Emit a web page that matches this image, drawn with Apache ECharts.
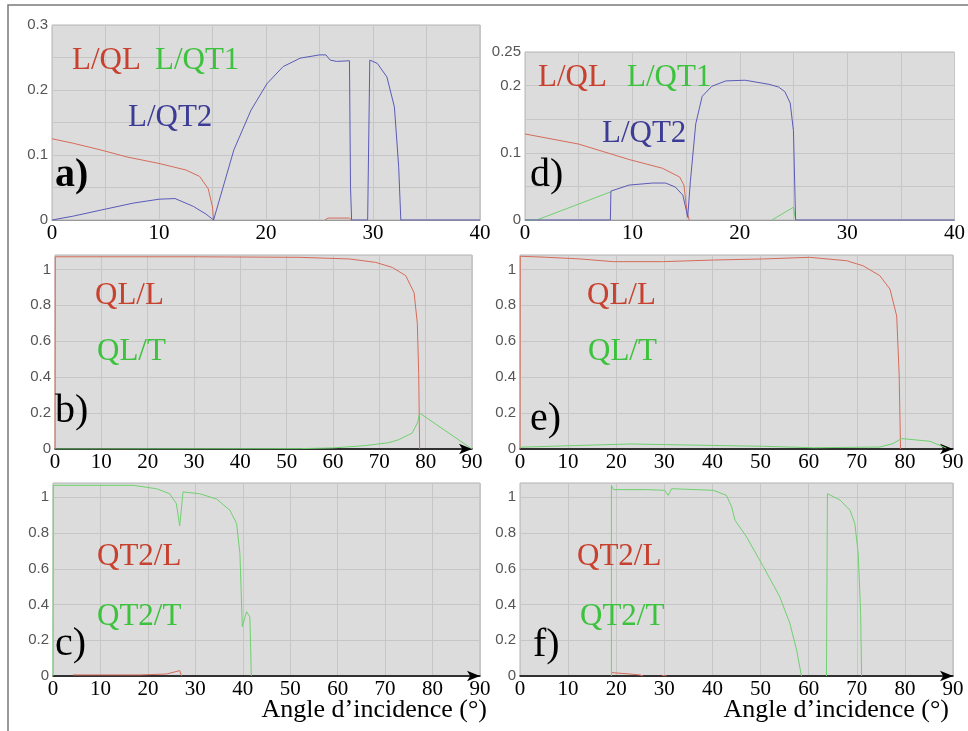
<!DOCTYPE html>
<html>
<head>
<meta charset="utf-8">
<script src="https://cdn.jsdelivr.net/npm/echarts@6/dist/echarts.min.js"></script>
<style>
  html, body { margin: 0; padding: 0; background: #fff; }
  #chart { width: 968px; height: 731px; }
</style>
</head>
<body>
<div id="chart"></div>
<script>
// ---- données : [angle, coefficient] ----
// a) L incident
const aLQL = [[0,0.125],[2,0.118],[4.5,0.108],[7,0.097],[10,0.087],[12.5,0.077],[13.8,0.067],[14.6,0.048],[15,0.02],[15.1,0],
  [20,null],[25.5,0],[25.8,0.003],[27.8,0.003],[28,0]]
const aLQT2 = [[0,0],[2,0.006],[4.5,0.015],[7.6,0.026],[10,0.032],[11.5,0.033],[13.2,0.021],[14.4,0.009],[15.1,0],
  [17,0.108],[18.6,0.169],[20.1,0.21],[21.6,0.236],[23.2,0.249],[25,0.254],[25.6,0.254],[26,0.246],[26.6,0.244],
  [27.8,0.245],[27.9,0.05],[28,0],[29.5,0],[29.7,0.246],[30.4,0.241],[31.3,0.22],[32,0.174],[32.4,0.082],[32.6,0],[40,0]]
// d) L incident
const dLQL = [[0,0.128],[5,0.113],[9.7,0.09],[12.8,0.077],[14.4,0.064],[14.8,0.052],[15.1,0.011],[15.3,0]]
const dLQT1 = [[0,0],[1.1,0],[8,0.042],[8.05,null],[23,0],[25,0.019],[25.2,0]]
const dLQT2 = [[0,0],[7.95,0],[8,0.043],[9.7,0.052],[11.9,0.055],[13.1,0.055],[14,0.049],[14.7,0.037],[15,0.016],[15.15,0.004],
  [15.4,0.057],[15.9,0.143],[16.5,0.184],[17.4,0.199],[18.7,0.207],[20.5,0.208],[22.7,0.202],[23.6,0.198],[24.2,0.191],
  [24.7,0.174],[25,0.133],[25.2,0],[40,0]]
// b) QL incident
const bQLL = [[0,0],[0.05,1.07],[31,1.07],[52.7,1.067],[63.5,1.058],[69.2,1.039],[72.8,1.011],[75.7,0.965],[77.5,0.87],
  [78.2,0.7],[78.5,0.42],[78.7,0]]
const bQLT = [[0,0],[52.7,0.002],[60,0.006],[67,0.019],[72,0.035],[74.2,0.052],[77.1,0.089],[78.3,0.15],[78.7,0.2],[90,0]]
// e) QL incident
const eQLL = [[0,0],[0.05,1.073],[5,1.068],[12.5,1.058],[19.4,1.043],[29.8,1.043],[40.2,1.052],[50.6,1.058],[60.2,1.067],
  [67.9,1.048],[71.3,1.02],[74.8,0.965],[76.9,0.89],[78.3,0.74],[78.8,0.42],[79.1,0]]
const eQLT = [[0,0.01],[12.5,0.02],[22.9,0.028],[31.2,0.024],[50.6,0.015],[61,0.007],[74.8,0.011],[77.5,0.03],[79.3,0.058],
  [81.7,0.052],[85.2,0.043],[88.6,0.005]]
// c) QT2 incident
const cQT2L = [[4.2,0.006],[18.3,0.006],[23.9,0.011],[26.7,0.03],[27.1,0]]
const cQT2T = [[0,0],[0.05,1.067],[16.9,1.067],[21.8,1.048],[24.6,1.02],[26,0.965],[26.7,0.84],[27.1,0.946],[27.4,1.03],
  [30.9,1.02],[34.5,0.99],[37.3,0.927],[38.7,0.853],[39.4,0.685],[39.9,0.276],[40.8,0.36],[41.5,0.33],[41.8,0]]
// f) QT2 incident
const fQT2L = [[19,0.019],[22.9,0.011],[24.9,0.006],[25.6,0],[27,null],[29.5,0.004],[30.5,0]]
const fQT2T = [[19,0],[19,1.067],[19.4,1.043],[26.3,1.043],[30.1,1.039],[30.8,1.011],[31.5,1.048],[40.2,1.039],[42.9,1.011],
  [44,0.946],[44.7,0.871],[47.1,0.778],[50.6,0.611],[54,0.443],[56.1,0.294],[57.5,0.145],[58.5,0],[61,null],
  [63.7,0],[63.9,1.02],[66.5,0.985],[68.6,0.927],[69.6,0.853],[70.3,0.685],[70.8,0.35],[71,0]]

// couleurs
const RED = '#d66b5a', GREEN = '#6fd06f', BLUE = '#5a5ab8'
const RED_T = '#c8402e', GREEN_T = '#3cc23c', BLUE_T = '#3c3c96'

const chart = echarts.init(document.getElementById('chart'))

// positions des 6 graphes : a, d, b, e, c, f
const grids = [
  {left: 52, top: 25, width: 428, height: 195},
  {left: 525, top: 52, width: 432, height: 168},
  {left: 55, top: 255, width: 417, height: 194},
  {left: 520, top: 255, width: 433, height: 194},
  {left: 53, top: 483, width: 427, height: 193},
  {left: 520, top: 483, width: 433, height: 193}
].map(g => Object.assign({show: true, backgroundColor: '#dcdcdc', borderColor: '#b4b4b4', borderWidth: 1}, g))

const yLabel = {color: '#555', fontFamily: 'Liberation Sans', fontSize: 15, margin: 4}
const xLabel = {color: '#000', fontFamily: 'Liberation Serif', fontSize: 21, margin: 3}
const split = {show: true, lineStyle: {color: '#c6c6c6', width: 1}}

const xAxes = []
const yAxes = []
for (let i = 0; i < 6; i++) {
  const small = i < 2
  xAxes.push({
    type: 'value', gridIndex: i, min: 0, max: small ? 40 : 90, interval: small ? 5 : 10,
    axisLabel: Object.assign({formatter: v => (v % 10 === 0 ? v : '')}, xLabel),
    axisTick: {show: false},
    splitLine: split,
    axisLine: small
      ? {show: true, lineStyle: {color: '#999', width: 1}}
      : {show: true, lineStyle: {color: '#000', width: 1.5}, symbol: ['none', 'arrow'], symbolSize: [8, 13]}
  })
}
// a) et d)
yAxes.push({type: 'value', gridIndex: 0, min: 0, max: 0.3, interval: 0.05,
  axisLabel: Object.assign({formatter: v => { const r = Math.round(v * 100); return r % 10 === 0 ? String(r / 100) : '' }}, yLabel),
  axisTick: {show: false}, axisLine: {show: false}, splitLine: split})
yAxes.push({type: 'value', gridIndex: 1, min: 0, max: 0.25, interval: 0.05,
  axisLabel: Object.assign({formatter: v => { const r = Math.round(v * 100); return (r % 10 === 0 || r === 25) ? String(r / 100) : '' }}, yLabel),
  axisTick: {show: false}, axisLine: {show: false}, splitLine: split})
for (let i = 2; i < 6; i++) {
  yAxes.push({type: 'value', gridIndex: i, min: 0, max: 1.08, interval: 0.2,
    axisLabel: Object.assign({formatter: v => (v > 1.01 ? '' : String(Math.round(v * 10) / 10))}, yLabel),
    axisTick: {show: false}, axisLine: {show: false}, splitLine: split})
}

const line = (data, idx, color) => ({
  type: 'line', data: data, xAxisIndex: idx, yAxisIndex: idx,
  showSymbol: false, symbol: 'none', connectNulls: false,
  lineStyle: {color: color, width: 1}, animation: false
})

// textes : étiquettes des courbes et lettres des panneaux (x, ligne de base)
const txt = (x, base, text, color, size, bold, align) => ({
  type: 'text', z: 100,
  style: {x: x, y: base - 0.34 * size, text: text, fill: color, verticalAlign: 'middle', align: align || 'left',
    font: (bold ? 'bold ' : '') + size + 'px "Liberation Serif"'}
})

const graphics = [
  {type: 'rect', z: -1, shape: {x: 8, y: 5, width: 975, height: 740}, style: {fill: 'none', stroke: '#7a7a7a', lineWidth: 1.5}},
  txt(72, 71, 'L/QL', RED_T, 31), txt(155, 71, 'L/QT1', GREEN_T, 31), txt(128, 128, 'L/QT2', BLUE_T, 31),
  txt(55, 189, 'a)', '#000', 40, true),
  txt(538, 88, 'L/QL', RED_T, 31), txt(627, 88, 'L/QT1', GREEN_T, 31), txt(602, 144, 'L/QT2', BLUE_T, 31),
  txt(530, 189, 'd)', '#000', 40),
  txt(95, 306, 'QL/L', RED_T, 31), txt(97, 362, 'QL/T', GREEN_T, 31), txt(55, 425, 'b)', '#000', 40),
  txt(587, 306, 'QL/L', RED_T, 31), txt(588, 362, 'QL/T', GREEN_T, 31), txt(530, 433, 'e)', '#000', 40),
  txt(97, 567, 'QT2/L', RED_T, 31), txt(97, 627, 'QT2/T', GREEN_T, 31), txt(55, 658, 'c)', '#000', 40),
  txt(577, 567, 'QT2/L', RED_T, 31), txt(580, 627, 'QT2/T', GREEN_T, 31), txt(533, 659, 'f)', '#000', 40),
  txt(487, 719, 'Angle d’incidence (°)', '#000', 26, false, 'right'),
  txt(949, 719, 'Angle d’incidence (°)', '#000', 26, false, 'right')
]

chart.setOption({
  backgroundColor: '#fff',
  animation: false,
  grid: grids,
  xAxis: xAxes,
  yAxis: yAxes,
  graphic: graphics,
  series: [
    line(aLQL, 0, RED), line(aLQT2, 0, BLUE),
    line(dLQL, 1, RED), line(dLQT1, 1, GREEN), line(dLQT2, 1, BLUE),
    line(bQLL, 2, RED), line(bQLT, 2, GREEN),
    line(eQLL, 3, RED), line(eQLT, 3, GREEN),
    line(cQT2L, 4, RED), line(cQT2T, 4, GREEN),
    line(fQT2L, 5, RED), line(fQT2T, 5, GREEN)
  ]
})
</script>
</body>
</html>
